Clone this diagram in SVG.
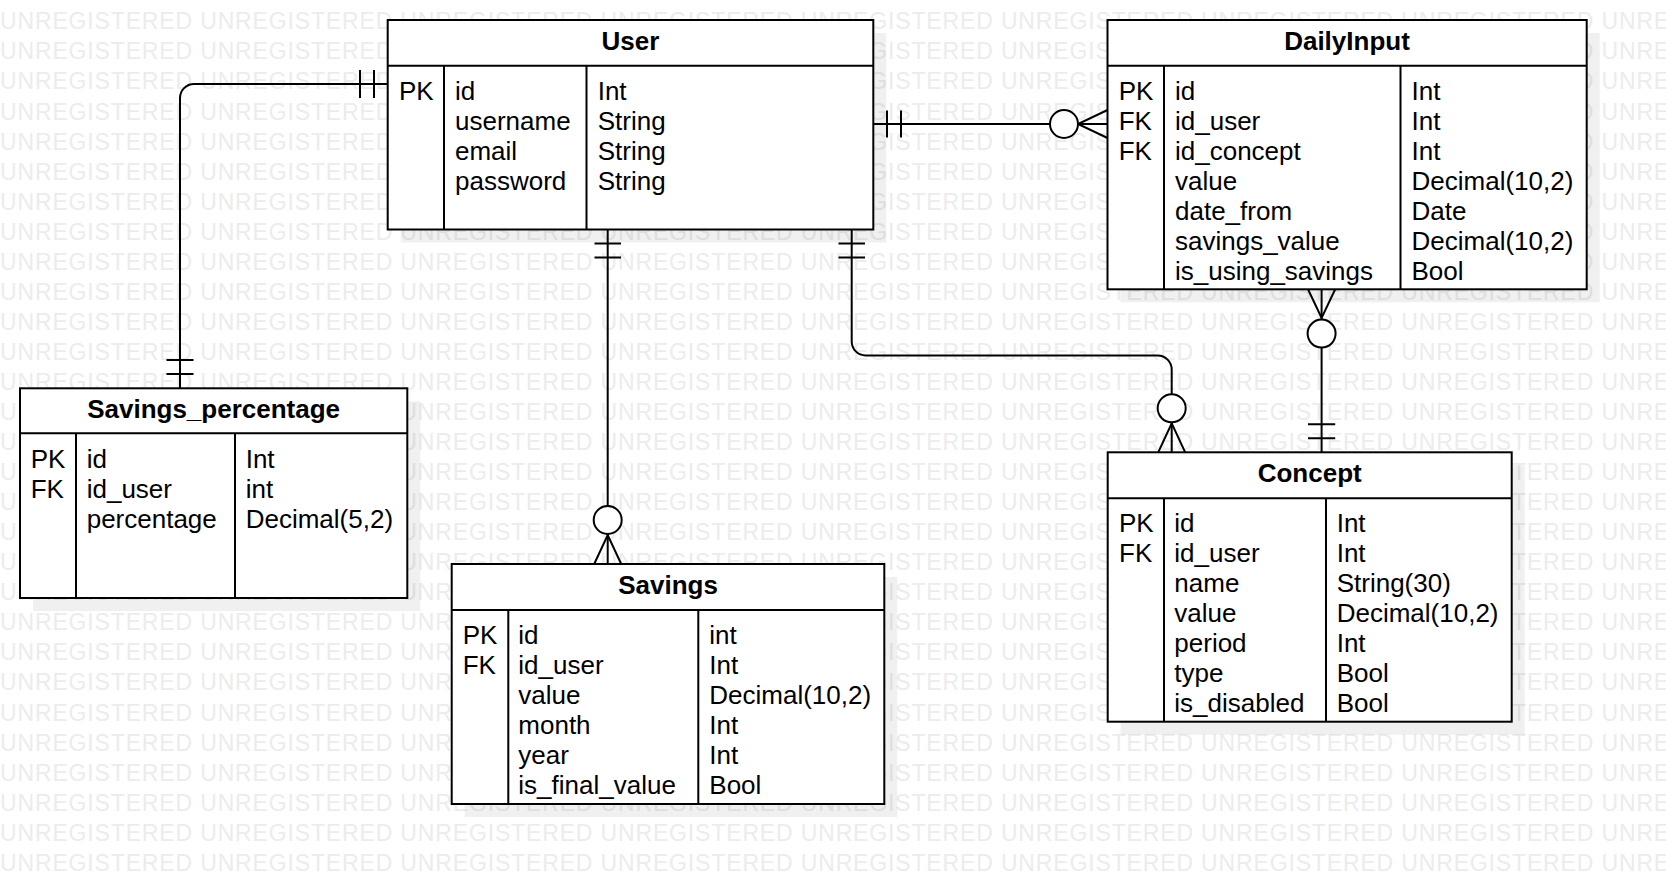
<svg xmlns="http://www.w3.org/2000/svg" width="1666" height="884" viewBox="0 0 1666 884">
<style>
.wm{font-family:"Liberation Sans",Arial,sans-serif;font-size:23px;fill:#ececec;letter-spacing:0.85px}
.sh{fill:#000;fill-opacity:0.06}
.box{fill:#fff;stroke:#000;stroke-width:2}
.ln{stroke:#000;stroke-width:2;fill:none}
.ci{fill:#fff;stroke:#000;stroke-width:2}
.t{font-family:"Liberation Sans",Arial,sans-serif;font-size:26px;fill:#000}
.h{font-weight:bold;text-anchor:middle}
</style>
<rect x="0" y="0" width="1666" height="884" fill="#fff"/>
<g id="watermark">
<text class="wm" x="0" y="29.3">UNREGISTERED UNREGISTERED UNREGISTERED UNREGISTERED UNREGISTERED UNREGISTERED UNREGISTERED UNREGISTERED UNREGISTERED</text>
<text class="wm" x="0" y="59.4">UNREGISTERED UNREGISTERED UNREGISTERED UNREGISTERED UNREGISTERED UNREGISTERED UNREGISTERED UNREGISTERED UNREGISTERED</text>
<text class="wm" x="0" y="89.4">UNREGISTERED UNREGISTERED UNREGISTERED UNREGISTERED UNREGISTERED UNREGISTERED UNREGISTERED UNREGISTERED UNREGISTERED</text>
<text class="wm" x="0" y="119.5">UNREGISTERED UNREGISTERED UNREGISTERED UNREGISTERED UNREGISTERED UNREGISTERED UNREGISTERED UNREGISTERED UNREGISTERED</text>
<text class="wm" x="0" y="149.5">UNREGISTERED UNREGISTERED UNREGISTERED UNREGISTERED UNREGISTERED UNREGISTERED UNREGISTERED UNREGISTERED UNREGISTERED</text>
<text class="wm" x="0" y="179.6">UNREGISTERED UNREGISTERED UNREGISTERED UNREGISTERED UNREGISTERED UNREGISTERED UNREGISTERED UNREGISTERED UNREGISTERED</text>
<text class="wm" x="0" y="209.6">UNREGISTERED UNREGISTERED UNREGISTERED UNREGISTERED UNREGISTERED UNREGISTERED UNREGISTERED UNREGISTERED UNREGISTERED</text>
<text class="wm" x="0" y="239.7">UNREGISTERED UNREGISTERED UNREGISTERED UNREGISTERED UNREGISTERED UNREGISTERED UNREGISTERED UNREGISTERED UNREGISTERED</text>
<text class="wm" x="0" y="269.7">UNREGISTERED UNREGISTERED UNREGISTERED UNREGISTERED UNREGISTERED UNREGISTERED UNREGISTERED UNREGISTERED UNREGISTERED</text>
<text class="wm" x="0" y="299.8">UNREGISTERED UNREGISTERED UNREGISTERED UNREGISTERED UNREGISTERED UNREGISTERED UNREGISTERED UNREGISTERED UNREGISTERED</text>
<text class="wm" x="0" y="329.8">UNREGISTERED UNREGISTERED UNREGISTERED UNREGISTERED UNREGISTERED UNREGISTERED UNREGISTERED UNREGISTERED UNREGISTERED</text>
<text class="wm" x="0" y="359.9">UNREGISTERED UNREGISTERED UNREGISTERED UNREGISTERED UNREGISTERED UNREGISTERED UNREGISTERED UNREGISTERED UNREGISTERED</text>
<text class="wm" x="0" y="389.9">UNREGISTERED UNREGISTERED UNREGISTERED UNREGISTERED UNREGISTERED UNREGISTERED UNREGISTERED UNREGISTERED UNREGISTERED</text>
<text class="wm" x="0" y="420">UNREGISTERED UNREGISTERED UNREGISTERED UNREGISTERED UNREGISTERED UNREGISTERED UNREGISTERED UNREGISTERED UNREGISTERED</text>
<text class="wm" x="0" y="450">UNREGISTERED UNREGISTERED UNREGISTERED UNREGISTERED UNREGISTERED UNREGISTERED UNREGISTERED UNREGISTERED UNREGISTERED</text>
<text class="wm" x="0" y="480.1">UNREGISTERED UNREGISTERED UNREGISTERED UNREGISTERED UNREGISTERED UNREGISTERED UNREGISTERED UNREGISTERED UNREGISTERED</text>
<text class="wm" x="0" y="510.1">UNREGISTERED UNREGISTERED UNREGISTERED UNREGISTERED UNREGISTERED UNREGISTERED UNREGISTERED UNREGISTERED UNREGISTERED</text>
<text class="wm" x="0" y="540.2">UNREGISTERED UNREGISTERED UNREGISTERED UNREGISTERED UNREGISTERED UNREGISTERED UNREGISTERED UNREGISTERED UNREGISTERED</text>
<text class="wm" x="0" y="570.2">UNREGISTERED UNREGISTERED UNREGISTERED UNREGISTERED UNREGISTERED UNREGISTERED UNREGISTERED UNREGISTERED UNREGISTERED</text>
<text class="wm" x="0" y="600.3">UNREGISTERED UNREGISTERED UNREGISTERED UNREGISTERED UNREGISTERED UNREGISTERED UNREGISTERED UNREGISTERED UNREGISTERED</text>
<text class="wm" x="0" y="630.3">UNREGISTERED UNREGISTERED UNREGISTERED UNREGISTERED UNREGISTERED UNREGISTERED UNREGISTERED UNREGISTERED UNREGISTERED</text>
<text class="wm" x="0" y="660.4">UNREGISTERED UNREGISTERED UNREGISTERED UNREGISTERED UNREGISTERED UNREGISTERED UNREGISTERED UNREGISTERED UNREGISTERED</text>
<text class="wm" x="0" y="690.4">UNREGISTERED UNREGISTERED UNREGISTERED UNREGISTERED UNREGISTERED UNREGISTERED UNREGISTERED UNREGISTERED UNREGISTERED</text>
<text class="wm" x="0" y="720.5">UNREGISTERED UNREGISTERED UNREGISTERED UNREGISTERED UNREGISTERED UNREGISTERED UNREGISTERED UNREGISTERED UNREGISTERED</text>
<text class="wm" x="0" y="750.5">UNREGISTERED UNREGISTERED UNREGISTERED UNREGISTERED UNREGISTERED UNREGISTERED UNREGISTERED UNREGISTERED UNREGISTERED</text>
<text class="wm" x="0" y="780.6">UNREGISTERED UNREGISTERED UNREGISTERED UNREGISTERED UNREGISTERED UNREGISTERED UNREGISTERED UNREGISTERED UNREGISTERED</text>
<text class="wm" x="0" y="810.6">UNREGISTERED UNREGISTERED UNREGISTERED UNREGISTERED UNREGISTERED UNREGISTERED UNREGISTERED UNREGISTERED UNREGISTERED</text>
<text class="wm" x="0" y="840.7">UNREGISTERED UNREGISTERED UNREGISTERED UNREGISTERED UNREGISTERED UNREGISTERED UNREGISTERED UNREGISTERED UNREGISTERED</text>
<text class="wm" x="0" y="870.7">UNREGISTERED UNREGISTERED UNREGISTERED UNREGISTERED UNREGISTERED UNREGISTERED UNREGISTERED UNREGISTERED UNREGISTERED</text>
</g>
<g id="shadows">
<rect class="sh" x="400.7" y="33" width="485.6" height="209.5"/>
<rect class="sh" x="1120.5" y="33" width="479.2" height="269.3"/>
<rect class="sh" x="33" y="401.3" width="387.3" height="209.7"/>
<rect class="sh" x="464.7" y="577" width="432.6" height="240"/>
<rect class="sh" x="1120.7" y="465.3" width="404" height="269.4"/>
</g>
<g id="connectors">
<path class="ln" d="M387.7,84 H194 A14,14 0 0 0 180,98 V388.3"/>
<path class="ln" d="M374,70 V98 M360,70 V98 M166.5,374 H193.5 M166.5,360 H193.5"/>
<path class="ln" d="M872.7,124 H1107.5"/>
<path class="ln" d="M887,110.5 V137.5 M901,110.5 V137.5"/>
<path class="ln" d="M1107.5,110 L1078,124 L1107.5,138"/>
<circle class="ci" cx="1064" cy="124" r="14"/>
<path class="ln" d="M607.7,229.5 V564"/>
<path class="ln" d="M594.5,243.5 H621 M594.5,257.5 H621"/>
<path class="ln" d="M594.2,564 L607.7,535 L621.2,564"/>
<circle class="ci" cx="607.7" cy="520" r="14"/>
<path class="ln" d="M851.7,229.5 V341.5 A14,14 0 0 0 865.7,355.5 H1157.7 A14,14 0 0 1 1171.7,369.5 V452.3"/>
<path class="ln" d="M838.5,243.5 H865 M838.5,257.5 H865"/>
<path class="ln" d="M1158.2,452.3 L1171.7,423.3 L1185.2,452.3"/>
<circle class="ci" cx="1171.7" cy="408.3" r="14"/>
<path class="ln" d="M1321.6,289.3 V452.3"/>
<path class="ln" d="M1308,289.3 L1321.6,318 L1335.2,289.3"/>
<circle class="ci" cx="1321.6" cy="333.6" r="14"/>
<path class="ln" d="M1308,424.3 H1335.2 M1308,438.3 H1335.2"/>
</g>
<g id="user">
<rect class="box" x="387.7" y="20" width="485.6" height="209.5"/>
<path class="ln" d="M387.7,65.7 H873.3 M444,65.7 V229.5 M586.5,65.7 V229.5"/>
<text class="t h" x="630.5" y="50">User</text>
<text class="t" x="399" y="100">PK</text>
<text class="t" x="455" y="100">id</text>
<text class="t" x="455" y="130">username</text>
<text class="t" x="455" y="160">email</text>
<text class="t" x="455" y="190">password</text>
<text class="t" x="597.7" y="100">Int</text>
<text class="t" x="597.7" y="130">String</text>
<text class="t" x="597.7" y="160">String</text>
<text class="t" x="597.7" y="190">String</text>
</g>
<g id="dailyinput">
<rect class="box" x="1107.5" y="20" width="479.2" height="269.3"/>
<path class="ln" d="M1107.5,65.7 H1586.7 M1164,65.7 V289.3 M1400.5,65.7 V289.3"/>
<text class="t h" x="1347" y="50">DailyInput</text>
<text class="t" x="1118.7" y="100">PK</text>
<text class="t" x="1118.7" y="130">FK</text>
<text class="t" x="1118.7" y="160">FK</text>
<text class="t" x="1175" y="100">id</text>
<text class="t" x="1175" y="130">id_user</text>
<text class="t" x="1175" y="160">id_concept</text>
<text class="t" x="1175" y="190">value</text>
<text class="t" x="1175" y="220">date_from</text>
<text class="t" x="1175" y="250">savings_value</text>
<text class="t" x="1175" y="280">is_using_savings</text>
<text class="t" x="1411.5" y="100">Int</text>
<text class="t" x="1411.5" y="130">Int</text>
<text class="t" x="1411.5" y="160">Int</text>
<text class="t" x="1411.5" y="190">Decimal(10,2)</text>
<text class="t" x="1411.5" y="220">Date</text>
<text class="t" x="1411.5" y="250">Decimal(10,2)</text>
<text class="t" x="1411.5" y="280">Bool</text>
</g>
<g id="savings_percentage">
<rect class="box" x="20" y="388.3" width="387.3" height="209.7"/>
<path class="ln" d="M20,433.3 H407.3 M76,433.3 V598 M235,433.3 V598"/>
<text class="t h" x="213.6" y="418">Savings_percentage</text>
<text class="t" x="30.7" y="467.5">PK</text>
<text class="t" x="30.7" y="497.5">FK</text>
<text class="t" x="86.7" y="467.5">id</text>
<text class="t" x="86.7" y="497.5">id_user</text>
<text class="t" x="86.7" y="527.5">percentage</text>
<text class="t" x="245.7" y="467.5">Int</text>
<text class="t" x="245.7" y="497.5">int</text>
<text class="t" x="245.7" y="527.5">Decimal(5,2)</text>
</g>
<g id="savings">
<rect class="box" x="451.7" y="564" width="432.6" height="240"/>
<path class="ln" d="M451.7,610 H884.3 M508.3,610 V804 M698.3,610 V804"/>
<text class="t h" x="668" y="593.5">Savings</text>
<text class="t" x="462.7" y="643.5">PK</text>
<text class="t" x="462.7" y="673.5">FK</text>
<text class="t" x="518.3" y="643.5">id</text>
<text class="t" x="518.3" y="673.5">id_user</text>
<text class="t" x="518.3" y="703.5">value</text>
<text class="t" x="518.3" y="733.5">month</text>
<text class="t" x="518.3" y="763.5">year</text>
<text class="t" x="518.3" y="793.5">is_final_value</text>
<text class="t" x="709.3" y="643.5">int</text>
<text class="t" x="709.3" y="673.5">Int</text>
<text class="t" x="709.3" y="703.5">Decimal(10,2)</text>
<text class="t" x="709.3" y="733.5">Int</text>
<text class="t" x="709.3" y="763.5">Int</text>
<text class="t" x="709.3" y="793.5">Bool</text>
</g>
<g id="concept">
<rect class="box" x="1107.7" y="452.3" width="404" height="269.4"/>
<path class="ln" d="M1107.7,498.3 H1511.7 M1164,498.3 V721.7 M1326,498.3 V721.7"/>
<text class="t h" x="1309.7" y="482">Concept</text>
<text class="t" x="1119" y="532">PK</text>
<text class="t" x="1119" y="562">FK</text>
<text class="t" x="1174.3" y="532">id</text>
<text class="t" x="1174.3" y="562">id_user</text>
<text class="t" x="1174.3" y="592">name</text>
<text class="t" x="1174.3" y="622">value</text>
<text class="t" x="1174.3" y="652">period</text>
<text class="t" x="1174.3" y="682">type</text>
<text class="t" x="1174.3" y="712">is_disabled</text>
<text class="t" x="1336.7" y="532">Int</text>
<text class="t" x="1336.7" y="562">Int</text>
<text class="t" x="1336.7" y="592">String(30)</text>
<text class="t" x="1336.7" y="622">Decimal(10,2)</text>
<text class="t" x="1336.7" y="652">Int</text>
<text class="t" x="1336.7" y="682">Bool</text>
<text class="t" x="1336.7" y="712">Bool</text>
</g>
</svg>
